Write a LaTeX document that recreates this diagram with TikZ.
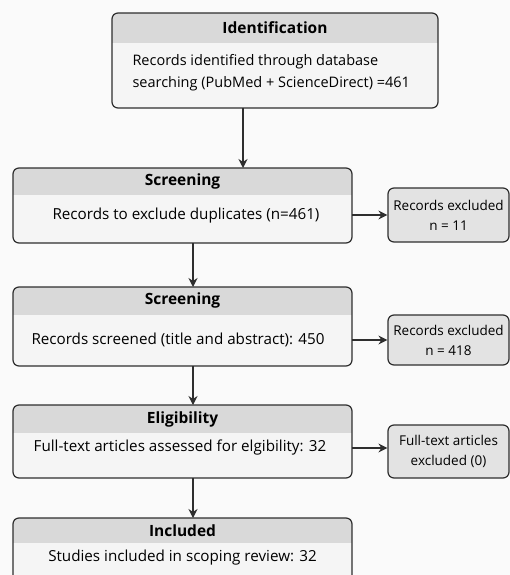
\documentclass[tikz,border=0pt]{standalone}
\usepackage{fontspec}
\setmainfont{Open Sans}
\usepackage{xcolor}
\usetikzlibrary{arrows.meta, positioning, calc}
\definecolor{headgray}{HTML}{D9D9D9}
\definecolor{bodygray}{HTML}{F5F5F5}
\definecolor{exclgray}{HTML}{E3E3E3}
\definecolor{linegray}{HTML}{2E2E2E}

\begin{document}
\begin{tikzpicture}[x=1pt,y=-1pt]
  \tikzset{>={Stealth[length=9pt,width=9pt]}}
  \tikzset{
    stagebox/.style={fill=bodygray,inner sep=0pt,outer sep=0pt},
    border/.style={draw=linegray,line width=1.2pt,rounded corners=6pt},
    exclbox/.style={draw=linegray,line width=1.2pt,rounded corners=6pt,fill=exclgray,
      align=center,inner sep=0pt,font=\fontsize{13.5}{20}\selectfont},
    title/.style={font=\bfseries\fontsize{15.5}{16}\selectfont},
    body/.style={font=\fontsize{15.2}{22}\selectfont},
    arr/.style={->,line width=1.3pt,draw=linegray}
  }
  \def\headband#1#2{%
    \begin{scope}
      \clip[rounded corners=6pt] (#1.north west) rectangle (#1.south east);
      \fill[headgray] (#1.north west) rectangle ([yshift=-#2]#1.north east);
    \end{scope}
    \draw[border] (#1.north west) rectangle (#1.south east);}

  \useasboundingbox[fill=white!98!black] (0,0) rectangle (510,575);
  \clip (0,0) rectangle (510,575);

  % main column
  \node[stagebox,minimum width=326pt,minimum height=95pt] (ident) at (275,60.5) {};
  \headband{ident}{30pt}
  \node[stagebox,minimum width=339pt,minimum height=75pt] (scr1) at (182.5,205.5) {};
  \headband{scr1}{27pt}
  \node[stagebox,minimum width=339pt,minimum height=79pt] (scr2) at (182.5,326.5) {};
  \headband{scr2}{28pt}
  \node[stagebox,minimum width=339pt,minimum height=73pt] (elig) at (182.5,441.5) {};
  \headband{elig}{28pt}
  \node[stagebox,minimum width=339pt,minimum height=80pt] (incl) at (182.5,558) {};
  \headband{incl}{25pt}

  % titles and texts
  \node[title] (ident-t) at (275,28) {Identification};
  \node[body,align=left,anchor=west,font=\fontsize{14.5}{22}\selectfont] (ident-b) at (129,73)
    {Records identified through database\\searching (PubMed + ScienceDirect) =461};
  \node[title] (scr1-t) at (182.5,181) {Screening};
  \node[body] (scr1-b) at (186,216) {Records to exclude duplicates (n=461)};
  \node[title] (scr2-t) at (182.5,300) {Screening};
  \node[body] (scr2-b) at (178,340) {Records screened (title and abstract): 450};
  \node[title] (elig-t) at (182.5,419) {Eligibility};
  \node[body] (elig-b) at (180,448) {Full-text articles assessed for elgibility: 32};
  \node[title] (incl-t) at (182.5,531) {Included};
  \node[body] (incl-b) at (182.5,558) {Studies included in scoping review: 32};

  % side boxes
  \node[exclbox,minimum width=121pt,minimum height=54pt] (excl1) at (448.5,215) {Records excluded\\n = 11};
  \node[exclbox,minimum width=121pt,minimum height=50pt] (excl2) at (448.5,340) {Records excluded\\n = 418};
  \node[exclbox,minimum width=121pt,minimum height=53pt] (excl3) at (448.5,451.5) {Full-text articles\\excluded (0)};

  % arrows
  \draw[arr] ([xshift=-32pt]ident.south) -- ([xshift=-32pt]ident.south |- scr1.north);
  \draw[arr] ([xshift=10.5pt]scr1.south) -- ([xshift=10.5pt]scr2.north);
  \draw[arr] ([xshift=10.5pt]scr2.south) -- ([xshift=10.5pt]elig.north);
  \draw[arr] ([xshift=10.5pt]elig.south) -- ([xshift=10.5pt]incl.north);
  \draw[arr] (scr1.east |- excl1.west) -- (excl1.west);
  \draw[arr] (scr2.east |- excl2.west) -- (excl2.west);
  \draw[arr] ([yshift=3.5pt]elig.east |- excl3.west) -- ([yshift=3.5pt]excl3.west);
\end{tikzpicture}
\end{document}
